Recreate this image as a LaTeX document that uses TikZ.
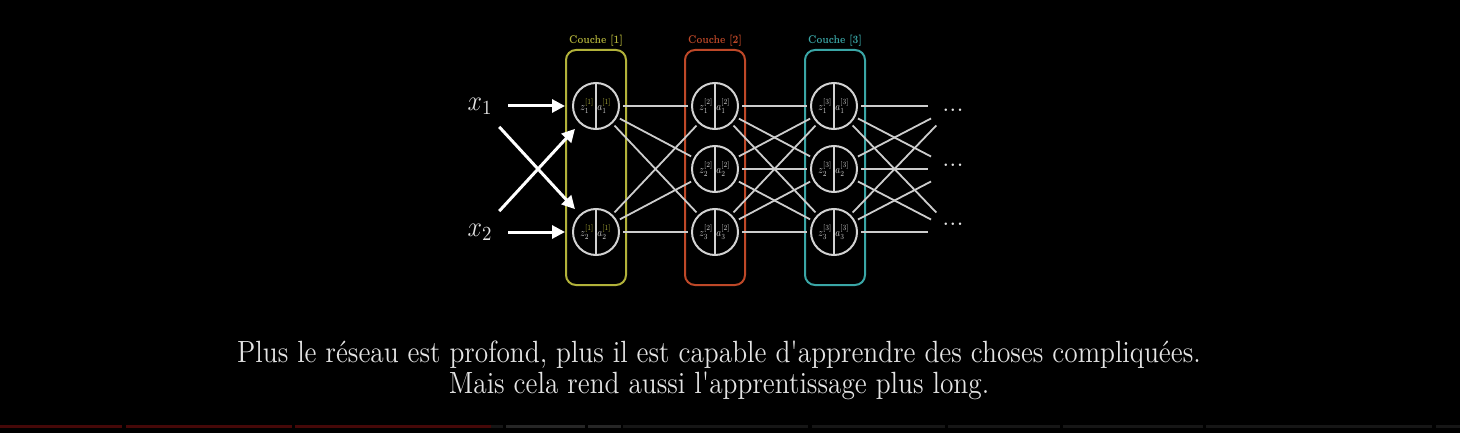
\RequirePackage{fix-cm}
\documentclass[tikz,border=0pt]{standalone}
\usepackage{amsmath}
\usetikzlibrary{arrows.meta}

\definecolor{cone}{RGB}{178,178,58}
\definecolor{ctwo}{RGB}{190,72,40}
\definecolor{cthree}{RGB}{58,166,166}
\definecolor{wirecol}{RGB}{205,205,205}
\definecolor{cellcol}{RGB}{210,210,210}
\definecolor{capt}{RGB}{228,228,228}
\definecolor{barred}{RGB}{70,8,8}
\definecolor{bargray}{RGB}{38,38,38}
\definecolor{bardark}{RGB}{22,22,22}

\tikzset{
  neuron/.style={circle, draw=cellcol, line width=1pt, minimum size=23pt, inner sep=0pt},
  cellt/.style={text=cellcol, inner sep=0pt},
  link/.style={draw=wirecol, line width=0.9pt, shorten <=1.5pt, shorten >=1.5pt},
  feed/.style={draw=white, line width=1.5pt, -{Triangle[length=6.5pt,width=6.5pt]}, shorten >=3.5pt},
  couche/.style={draw=#1, line width=1pt, rounded corners=5pt, minimum width=30pt,
    minimum height=117.5pt, inner sep=0pt},
  couchelab/.style={text=#1, font=\fontsize{5.6}{6}\selectfont\bfseries, inner sep=1pt, above},
  inp/.style={circle, minimum size=28pt, inner sep=0pt, text=capt, font=\fontsize{13}{15}\selectfont},
}

% halves of a neuron: name, index, layer, colour of the superscript
\newcommand{\cellparts}[4]{%
  \draw[cellcol, line width=0.8pt] (#1.north) -- (#1.south);
  \node[cellt] at ([xshift=-4.5pt]#1.center) {\scalebox{0.47}[0.56]{$z_{#2}^{\textcolor{#4}{[#3]}}$}};
  \node[cellt] at ([xshift=4.1pt]#1.center) {\scalebox{0.47}[0.56]{$a_{#2}^{\textcolor{#4}{[#3]}}$}};}

\begin{document}
\begin{tikzpicture}[x=0.5pt, y=-0.5pt]
  \fill[black] (0,0) rectangle (1460,433);

  % layers
  \foreach \c/\x/\col in {1/596/cone, 2/715/ctwo, 3/835/cthree} {
    \node[couche=\col] (box\c) at (\x,167.5) {};
    \node[couchelab=\col] (lab\c) at (box\c.north) {\scalebox{0.75}[1]{Couche [\c]}};
  }

  % neurons
  \foreach \y [count=\i] in {106,232} \node[neuron] (n1\i) at (596,\y) {};
  \foreach \l/\x in {2/715, 3/834}
    \foreach \y [count=\i] in {106,169,232} \node[neuron] (n\l\i) at (\x,\y) {};
  \foreach \i in {1,2} \cellparts{n1\i}{\i}{1}{cone};
  \foreach \l in {2,3}
    \foreach \i in {1,2,3} \cellparts{n\l\i}{\i}{\l}{cellcol};

  % inputs
  \node[inp] (x1) at (480,106) {\scalebox{1}[1.1]{$x_1$}};
  \node[inp] (x2) at (480,232) {\scalebox{1}[1.1]{$x_2$}};
  \foreach \a in {1,2}
    \foreach \b in {1,2} \draw[feed] (x\a) -- (n1\b);

  % links
  \foreach \i in {1,2}
    \foreach \j in {1,2,3} \draw[link] (n1\i) -- (n2\j);
  \foreach \i in {1,2,3}
    \foreach \j in {1,2,3} \draw[link] (n2\i) -- (n3\j);
  \foreach \j/\y in {1/106, 2/169, 3/232} \coordinate (t\j) at (955,\y);
  \foreach \i in {1,2,3}
    \foreach \j in {1,2,3} \draw[link, shorten >=13.5pt] (n3\i) -- (t\j);
  \foreach \j/\y in {1/111.5, 2/166.5, 3/225.5}
    \node[anchor=base, text=capt, inner sep=0pt, font=\fontsize{13}{15}\selectfont] (dots\j) at (953,\y) {...};

  % caption
  \node[text=capt, inner sep=0pt, font=\fontsize{13.7}{13.8}\selectfont] (caption) at (719,372)
    {\scalebox{1}[1.12]{\begin{tabular}{@{}c@{}}
      Plus le réseau est profond, plus il est capable d\textquotesingle apprendre des choses compliquées.\\
      Mais cela rend aussi l\textquotesingle apprentissage plus long.
    \end{tabular}}};

  % progress bar
  \foreach \a/\b/\col in {0/122/barred, 126/292/barred, 295/491/barred, 491/503/bardark,
      506/585/bargray, 588/621/bargray, 623/808/bardark, 812/945/bardark, 948/1060/bardark,
      1063/1203/bardark, 1206/1432/bardark, 1436/1460/bardark}
    \fill[\col] (\a,425) rectangle (\b,428);
\end{tikzpicture}
\end{document}
